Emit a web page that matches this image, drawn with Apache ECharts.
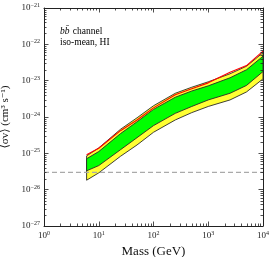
<!DOCTYPE html>
<html><head><meta charset="utf-8">
<script src="https://cdn.jsdelivr.net/npm/echarts@6/dist/echarts.min.js"></script>
<style>html,body{margin:0;padding:0;background:#fff}#c{width:274px;height:257px}</style>
</head><body><div id="c"></div>
<script>
const mass = [6, 10, 25, 50, 100, 250, 500, 1000, 2500, 5000, 10000];
const yellowUpper = [8.5e-26, 1.41e-25, 4.6e-25, 9.5e-25, 2.04e-24, 4.5e-24, 6.6e-24, 9.3e-24, 1.55e-23, 2.5e-23, 5.9e-23];
const greenUpper  = [7.1e-26, 1.12e-25, 3.5e-25, 7.4e-25, 1.62e-24, 3.5e-24, 5.2e-24, 7.2e-24, 1.2e-23, 2.0e-23, 4.7e-23];
const greenLower  = [3.3e-26, 4.6e-26, 1.26e-25, 2.7e-25, 5.8e-25, 1.26e-24, 1.95e-24, 2.95e-24, 4.5e-24, 7.4e-24, 1.78e-23];
const yellowLower = [1.82e-26, 2.9e-26, 8.3e-26, 1.7e-25, 3.8e-25, 8.3e-25, 1.32e-24, 1.95e-24, 2.95e-24, 4.9e-24, 1.12e-23];
const redLine     = [9.1e-26, 1.38e-25, 4.2e-25, 8.3e-25, 1.78e-24, 4.1e-24, 6.0e-24, 8.7e-24, 1.7e-23, 2.6e-23, 6.5e-23];
const thermalRelic = 3e-26;
const xRange = [1, 10000];
const yRange = [1e-27, 1e-21];
const textLine1 = 'channel';
const textLine2 = 'iso-mean, HI';

// ECharts' log scale rounds values below 1e-20 to zero, so the y axis is a linear
// axis over log10(value); every y value passes through lg() before it is plotted.
const lg = v => Math.log10(v);

const SERIF = '"Liberation Serif","DejaVu Serif",serif';
const supRich = {
  b: {fontFamily: SERIF, fontSize: 9, color: '#222'},
  s: {fontFamily: SERIF, fontSize: 6, color: '#222', verticalAlign: 'top', padding: [0,0,5,0]}
};
function supText(e) {
  return '{b|10}{s|' + (e < 0 ? '\u2212' + (-e) : e) + '}';
}

function band(upper, lower, fill) {
  return {
    type: 'custom', xAxisIndex: 0, yAxisIndex: 0, data: [[mass[0], lg(lower[0])]], silent: true, clip: false,
    renderItem: function (params, api) {
      const pts = [];
      for (let i = 0; i < mass.length; i++) pts.push(api.coord([mass[i], lg(upper[i])]));
      for (let i = mass.length - 1; i >= 0; i--) pts.push(api.coord([mass[i], lg(lower[i])]));
      return {type: 'polygon', shape: {points: pts}, style: {fill: fill, stroke: '#2a2a2a', lineWidth: 0.9}};
    }
  };
}

function minorTicks() {
  return {
    type: 'custom', xAxisIndex: 0, yAxisIndex: 0, data: [[10, -24]], silent: true, z: 10, clip: false,
    renderItem: function (params, api) {
      const x0 = api.coord([xRange[0], lg(yRange[0])]);
      const x1 = api.coord([xRange[1], lg(yRange[1])]);
      const left = x0[0], bottom = x0[1], right = x1[0], top = x1[1];
      const children = [];
      const L = 2.5;
      const st = {stroke: '#222', lineWidth: 0.8};
      for (let e = 0; e < 4; e++) for (let k = 2; k <= 9; k++) {
        const x = Math.round(api.coord([k * Math.pow(10, e), -24])[0]) + 0.5;
        children.push({type: 'line', shape: {x1: x, y1: bottom, x2: x, y2: bottom - L}, style: st});
        children.push({type: 'line', shape: {x1: x, y1: top, x2: x, y2: top + L}, style: st});
      }
      for (let e = -27; e < -21; e++) for (let k = 2; k <= 9; k++) {
        const y = Math.round(api.coord([10, e + Math.log10(k)])[1]) + 0.5;
        children.push({type: 'line', shape: {x1: left, y1: y, x2: left + L, y2: y}, style: st});
        children.push({type: 'line', shape: {x1: right, y1: y, x2: right - L, y2: y}, style: st});
      }
      return {type: 'group', children: children};
    }
  };
}

const chart = echarts.init(document.getElementById('c'), null, {renderer: 'canvas'});
const axisLine = {show: true, onZero: false, lineStyle: {color: '#222', width: 1}};
const majorTick = {show: true, inside: true, length: 4.5, lineStyle: {color: '#222', width: 0.8}};
chart.setOption({
  animation: false,
  backgroundColor: '#fff',
  grid: {left: 44, right: 11, top: 8, bottom: 31, containLabel: false, outerBoundsMode: 'none'},
  xAxis: [
    {type: 'log', logBase: 10, min: xRange[0], max: xRange[1],
     name: 'Mass (GeV)', nameLocation: 'middle', nameGap: 17,
     nameTextStyle: {fontFamily: SERIF, fontSize: 13, color: '#111'},
     axisLine: axisLine, axisTick: majorTick, splitLine: {show: false},
     axisLabel: {margin: 4, formatter: v => supText(Math.round(Math.log10(v))), rich: supRich}},
    {type: 'log', logBase: 10, min: xRange[0], max: xRange[1], position: 'top',
     axisLine: axisLine, axisTick: majorTick, splitLine: {show: false}, axisLabel: {show: false}}
  ],
  yAxis: [
    {type: 'value', min: lg(yRange[0]), max: lg(yRange[1]), interval: 1,
     name: '\u27E8\u03C3v\u27E9 (cm\u00B3 s\u207B\u00B9)', nameLocation: 'middle', nameGap: 28, nameRotate: 90,
     nameTextStyle: {fontFamily: SERIF, fontSize: 11, color: '#111'},
     axisLine: axisLine, axisTick: majorTick, splitLine: {show: false},
     axisLabel: {margin: 4, formatter: v => supText(Math.round(v)), rich: supRich}},
    {type: 'value', min: lg(yRange[0]), max: lg(yRange[1]), interval: 1, position: 'right',
     axisLine: axisLine, axisTick: majorTick, splitLine: {show: false}, axisLabel: {show: false}}
  ],
  graphic: [
    {type: 'text', left: 60, top: 25, style: {
      text: '{i|bb\u0304} {n|' + textLine1 + '}\n{n|' + textLine2 + '}',
      rich: {i: {fontFamily: SERIF, fontStyle: 'italic', fontSize: 9.5, color: '#111', lineHeight: 11},
             n: {fontFamily: SERIF, fontSize: 9.5, color: '#111', lineHeight: 11}}}}
  ],
  series: [
    band(yellowUpper, yellowLower, '#ffff33'),
    band(greenUpper, greenLower, '#00ff00'),
    {type: 'line', xAxisIndex: 0, yAxisIndex: 0, showSymbol: false, smooth: false,
     data: mass.map((m, i) => [m, lg(redLine[i])]), lineStyle: {color: '#ff0000', width: 1.1}},
    {type: 'line', xAxisIndex: 0, yAxisIndex: 0, showSymbol: false,
     data: [[xRange[0], lg(thermalRelic)], [xRange[1], lg(thermalRelic)]],
     lineStyle: {color: '#aaaaaa', width: 1.2, type: [5, 3]}},
    minorTicks()
  ]
});
</script></body></html>
